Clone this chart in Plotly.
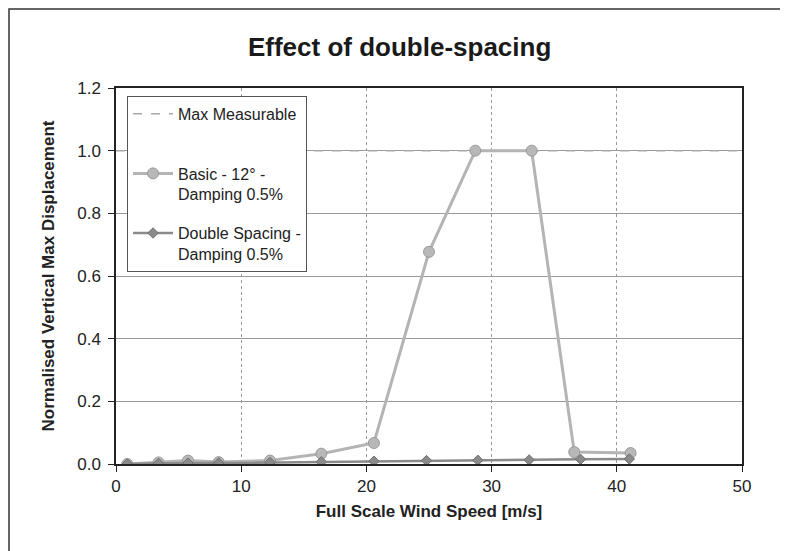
import plotly.graph_objects as go

# Data
basic_x = [0.9, 3.4, 5.75, 8.2, 12.3, 16.4, 20.6, 25.0, 28.7, 33.2, 36.6, 41.1]
basic_y = [0.0, 0.005, 0.011, 0.006, 0.011, 0.033, 0.067, 0.677, 1.0, 1.0, 0.038, 0.035]

double_x = [0.9, 3.4, 5.75, 8.2, 12.3, 16.4, 20.6, 24.8, 28.9, 33.0, 37.1, 41.0]
double_y = [0.0, 0.002, 0.003, 0.003, 0.005, 0.007, 0.009, 0.011, 0.012, 0.013, 0.015, 0.016]

max_x = [0, 50]
max_y = [1.0, 1.0]

x_ticks = [0, 10, 20, 30, 40, 50]
y_ticks = [0.0, 0.2, 0.4, 0.6, 0.8, 1.0, 1.2]

FONT = "Liberation Sans, Arial, sans-serif"

fig = go.Figure()
fig.add_trace(go.Scatter(
    x=max_x, y=max_y, mode="lines", name="Max Measurable<br> ",
    line=dict(color="#a8a8a8", width=1.5, dash="dash"),
    legendgroup="a"))
fig.add_trace(go.Scatter(
    x=basic_x, y=basic_y, mode="lines+markers",
    name="Basic - 12° -<br>Damping 0.5%",
    line=dict(color="#b4b4b4", width=3),
    marker=dict(symbol="circle", size=11, color="#b8b8b8",
                line=dict(color="#9a9a9a", width=1)),
    legendgroup="b"))
fig.add_trace(go.Scatter(
    x=double_x, y=double_y, mode="lines+markers",
    name="Double Spacing -<br>Damping 0.5%",
    line=dict(color="#8a8a8a", width=2.5),
    marker=dict(symbol="diamond", size=8, color="#8a8a8a",
                line=dict(color="#707070", width=1)),
    legendgroup="c"))

fig.update_layout(
    width=788, height=551,
    margin=dict(l=108, r=54, t=80, b=95),
    paper_bgcolor="white", plot_bgcolor="white",
    font=dict(family=FONT, color="#222222", size=17),
    title=dict(text="<b>Effect of double-spacing</b>", x=0.497, xref="container",
               xanchor="center", y=1 - 39 / 551, yref="container", yanchor="middle",
               font=dict(size=26, family=FONT, color="#1a1a1a")),
    showlegend=True,
    legend=dict(x=0.0176, y=0.979, xanchor="left", yanchor="top",
                bgcolor="white", bordercolor="#555555", borderwidth=1,
                font=dict(size=16, family=FONT, color="#222222"),
                traceorder="grouped", tracegroupgap=15, valign="top",
                itemwidth=40),
    xaxis=dict(range=[0, 50], tickvals=x_ticks, ticktext=[str(v) for v in x_ticks],
               showgrid=True, gridcolor="#9a9a9a", gridwidth=1, griddash="dot",
               showline=True, linecolor="#222222", linewidth=1.5, mirror=True,
               ticks="outside", ticklen=6, tickcolor="#222222",
               zeroline=False, automargin=False,
               title=dict(text="<b>Full Scale Wind Speed [m/s]</b>",
                          font=dict(size=17, family=FONT), standoff=10)),
    yaxis=dict(range=[0, 1.2], tickvals=y_ticks, tickformat=".1f",
               showgrid=True, gridcolor="#9a9a9a", gridwidth=1,
               showline=True, linecolor="#222222", linewidth=1.5, mirror=True,
               ticks="outside", ticklen=6, tickcolor="#222222",
               ticklabelstandoff=4,
               zeroline=False, automargin=False,
               title=dict(text="<b>Normalised Vertical Max Displacement</b>",
                          font=dict(size=17, family=FONT), standoff=18)),
)

# Outer frame of the figure (left and top edges visible in the reference)
fig.add_shape(type="rect", xref="paper", yref="paper",
              x0=(1 - 108) / 626, x1=2.0,
              y0=-1.0, y1=(456 - 1) / 376,
              line=dict(color="#333333", width=1.5), layer="below")

fig.write_html("out.html")
